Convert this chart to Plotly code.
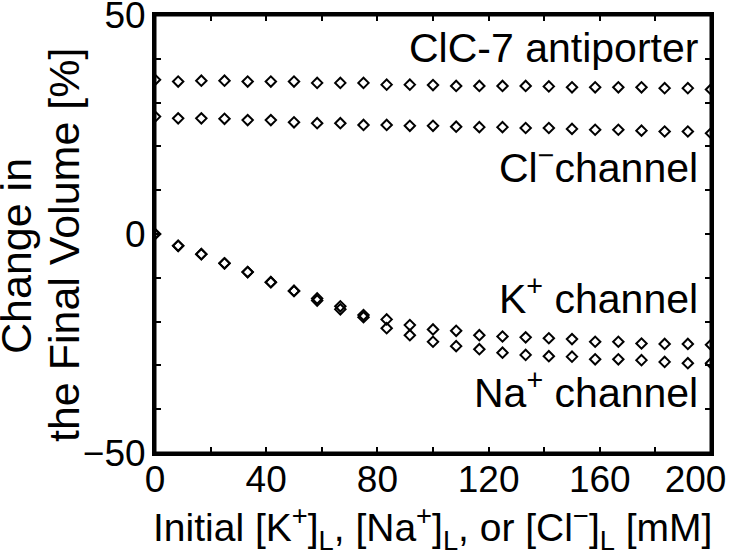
import plotly.graph_objects as go

x_conc = [0, 8.33, 16.67, 25, 33.33, 41.67, 50, 58.33, 66.67, 75, 83.33, 91.67, 100,
          108.33, 116.67, 125, 133.33, 141.67, 150, 158.33, 166.67, 175, 183.33, 191.67, 200]

clc7 = [35.2, 34.8, 35.0, 35.0, 34.8, 34.8, 34.8, 34.5, 34.5, 34.5, 34.1, 34.1, 34.0,
        33.8, 33.8, 33.8, 33.8, 33.7, 33.5, 33.5, 33.5, 33.5, 33.3, 33.3, 33.0]
cl_channel = [26.8, 26.4, 26.4, 26.3, 26.0, 26.0, 25.5, 25.3, 25.3, 24.9, 24.9, 24.7, 24.7,
              24.5, 24.4, 24.4, 24.2, 24.2, 24.0, 23.8, 23.8, 23.6, 23.4, 23.4, 23.0]
k_channel = [0.0, -2.7, -4.6, -6.7, -8.7, -11.0, -13.0, -14.7, -16.5, -18.5, -19.5, -20.8, -21.8,
             -22.1, -23.1, -23.4, -23.6, -23.8, -24.0, -24.6, -24.6, -25.0, -25.1, -25.1, -25.3]
na_channel = [0.0, -2.7, -4.6, -6.7, -8.7, -11.0, -13.0, -15.2, -17.2, -19.0, -21.5, -23.1, -24.6,
              -25.6, -26.3, -27.1, -27.6, -27.9, -28.0, -28.6, -28.6, -28.8, -29.2, -29.5, -29.5]

x_tickvals = [0, 20, 40, 60, 80, 100, 120, 140, 160, 180, 200]
x_ticktext = ["0", "", "40", "", "80", "", "120", "", "160", "", "200\u00a0\u00a0\u00a0"]
y_tickvals = [-50, -40, -30, -20, -10, 0, 10, 20, 30, 40, 50]
y_ticktext = ["\u221250", "", "", "", "", "0", "", "", "", "", "50"]

FONT = "Liberation Sans, Arial, Helvetica, sans-serif"
FS = 37

L, R, T, B = 155, 22, 15, 107
W, H = 733, 560
pw, ph = W - L - R, H - T - B


def px2paper(px, py):
    return (px - L) / pw, 1 - (py - T) / ph


fig = go.Figure()
for name, ys in [("ClC-7 antiporter", clc7), ("Cl- channel", cl_channel),
                 ("K+ channel", k_channel), ("Na+ channel", na_channel)]:
    fig.add_trace(go.Scatter(
        x=x_conc, y=ys, mode="markers", name=name,
        marker=dict(symbol="diamond-open", size=8, color="black",
                    line=dict(width=2, color="black")),
        showlegend=False))

axis_common = dict(showline=True, linewidth=3, linecolor="black", mirror="ticks",
                   ticks="inside", ticklen=6, tickwidth=2, tickcolor="black",
                   showgrid=False, zeroline=False, ticklabeloverflow="allow",
                   automargin=False,
                   tickfont=dict(family=FONT, size=FS, color="black"))

fig.update_xaxes(range=[0, 200], tickmode="array", tickvals=x_tickvals,
                 ticktext=x_ticktext, ticklabelstandoff=-8, **axis_common)
fig.update_yaxes(range=[-50, 50], tickmode="array", tickvals=y_tickvals,
                 ticktext=y_ticktext, ticklabelstandoff=-1, **axis_common)

# frame
fig.add_shape(type="rect", xref="paper", yref="paper", x0=0, y0=0, x1=1, y1=1,
              line=dict(color="black", width=3), layer="above")

labels = [
    ("ClC-7 antiporter", 42.5),
    ("Cl<sup>\u2212</sup>channel", 15.8),
    ("K<sup>+</sup> channel", -14.2),
    ("Na<sup>+</sup> channel", -35.6),
]
for txt, yv in labels:
    fig.add_annotation(x=196, y=yv, xref="x", yref="y", text=txt, showarrow=False,
                       xanchor="right", yanchor="middle",
                       font=dict(family=FONT, size=41, color="black"))

for txt, px, py, fs in [("Change in", 16, 256, 43), ("the Final Volume [%]", 64, 245, 43)]:
    ax, ay = px2paper(px, py)
    fig.add_annotation(x=ax, y=ay, xref="paper", yref="paper", text=txt,
                       showarrow=False, textangle=-90, xanchor="center", yanchor="middle",
                       font=dict(family=FONT, size=fs, color="black"))

tx, ty = px2paper(432, 528)
fig.add_annotation(x=tx, y=ty, xref="paper", yref="paper",
                   text="Initial [K<sup>+</sup>]<sub>L</sub>, [Na<sup>+</sup>]<sub>L</sub>, or [Cl<sup>\u2212</sup>]<sub>L</sub> [mM]",
                   showarrow=False, xanchor="center", yanchor="middle",
                   font=dict(family=FONT, size=39, color="black"))

fig.update_layout(width=W, height=H, margin=dict(l=L, r=R, t=T, b=B),
                  plot_bgcolor="white", paper_bgcolor="white")

fig.write_html("out.html", config={"displayModeBar": False},
               post_script="document.body.style.margin='0';document.body.style.overflow='hidden';")
